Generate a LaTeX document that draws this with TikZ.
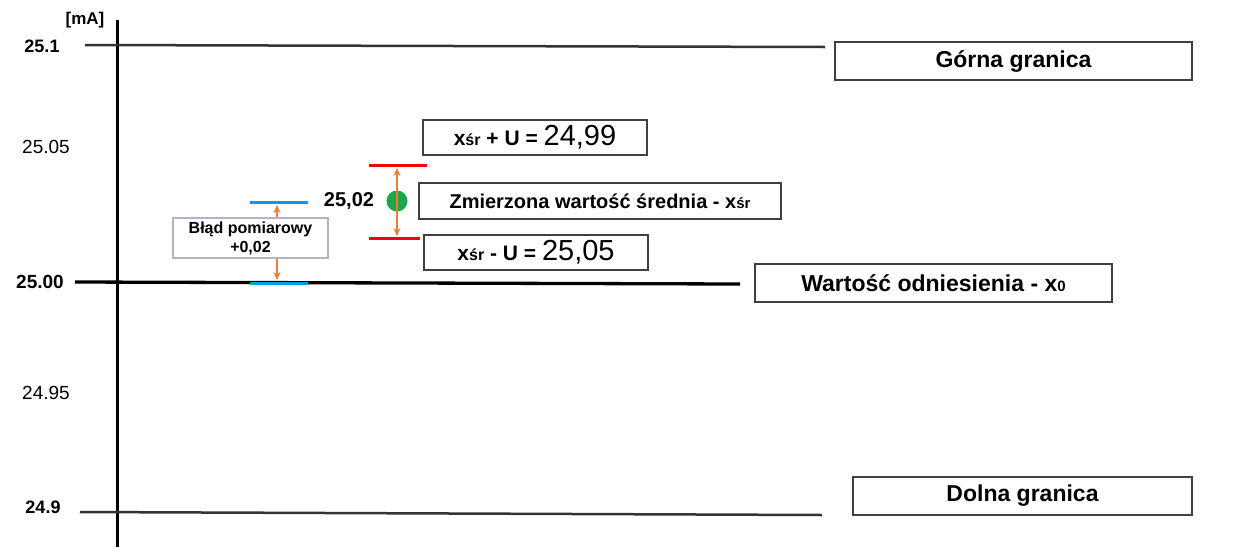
\documentclass[tikz,border=0pt]{standalone}
\usepackage{fontspec}
\usetikzlibrary{arrows.meta}
\setmainfont{Liberation Sans}
\definecolor{oor}{HTML}{ED7D31}
\definecolor{bbl}{HTML}{00A0E0}
\definecolor{ggr}{HTML}{1AA84A}
\begin{document}
\begin{tikzpicture}[x=1pt,y=-1pt,
 box/.style={draw=black!75,line width=1.3pt,inner sep=0pt},
 lim/.style={line width=2.5pt,draw=black!80},
 oar/.style={draw=oor,line width=2pt,<->,>={Stealth[length=8pt,width=7pt]}},
 oar1/.style={draw=oor,line width=2pt,->,>={Stealth[length=8pt,width=7pt]}},
 lab/.style={font=\fontsize{17}{19}\selectfont}]
\useasboundingbox (0,0) rectangle (1245,547);
\draw[line width=3pt] (117,20) -- (117,547);
\node[lab,font=\bfseries\fontsize{17}{19}\selectfont] (ma) at (85,20) {[mA]};
\coordinate (a1) at (85,45); \coordinate (a2) at (825,47);
\draw[lim] (a1) -- (a2);
\coordinate (b1) at (75,282); \coordinate (b2) at (740,284);
\draw[line width=3.3pt] (b1) -- (b2);
\coordinate (c1) at (80,512); \coordinate (c2) at (822,515);
\draw[lim] (c1) -- (c2);
\node[lab,font=\bfseries\fontsize{18}{20}\selectfont] (t1) at (42,46) {25.1};
\node[lab,font=\fontsize{19}{21}\selectfont] (t2) at (46,147) {25.05};
\node[lab,font=\bfseries\fontsize{19}{21}\selectfont] (t3) at (40,282) {25.00};
\node[lab,font=\fontsize{19}{21}\selectfont] (t4) at (46,393) {24.95};
\node[lab,font=\bfseries\fontsize{18}{20}\selectfont] (t5) at (43,507) {24.9};
\node[box,minimum width=357pt,minimum height=38pt,font=\bfseries\fontsize{23}{25}\selectfont] (gg) at (1013.5,61) {Górna granica};
\node[box,minimum width=339pt,minimum height=38pt,font=\bfseries\fontsize{23}{25}\selectfont] (dg) at (1022.5,496) {Dolna granica};
\node[box,minimum width=357pt,minimum height=38pt,font=\bfseries\fontsize{23}{25}\selectfont] (wo) at (933.5,283) {Wartość odniesienia - x{\fontsize{15}{16}\selectfont 0}};
\node[box,minimum width=224pt,minimum height=35pt,font=\bfseries\fontsize{21}{23}\selectfont] (up) at (535,137.5) {x{\fontsize{16}{17}\selectfont śr} + U = {\mdseries\fontsize{29}{31}\selectfont 24,99}};
\node[box,minimum width=362pt,minimum height=36pt,font=\bfseries\fontsize{20}{22}\selectfont] (zm) at (600,201) {Zmierzona wartość średnia - x{\fontsize{15}{16}\selectfont śr}};
\node[box,minimum width=224pt,minimum height=35pt,font=\bfseries\fontsize{21}{23}\selectfont] (lo) at (536,252.5) {x{\fontsize{16}{17}\selectfont śr} - U = {\mdseries\fontsize{29}{31}\selectfont 25,05}};
\draw[red,line width=3pt] (369,165) -- (427,165);
\draw[red,line width=3pt] (369,238) -- (420,238);
\fill[ggr] (397,201) circle (10.5);
\coordinate (r1) at (397,168); \coordinate (r2) at (397,236);
\draw[oar] (r1) -- (r2);
\node[font=\bfseries\fontsize{20}{22}\selectfont] (v) at (349,201) {25,02};
\draw[bbl,line width=3pt] (250,202) -- (308,202);
\draw[bbl,line width=3pt] (250,283) -- (308,283);
\node[draw=blue!20!gray!50,line width=1.2pt,fill=white,minimum width=155pt,minimum height=40pt,align=center,font=\bfseries\fontsize{16}{19}\selectfont] (bp) at (250.5,238) {Błąd pomiarowy\\+0,02};
\coordinate (e1) at (277,205); \coordinate (e2) at (277,280);
\draw[oar1] (bp.north -| e1) -- (e1);
\draw[oar1] (bp.south -| e2) -- (e2);
\end{tikzpicture}
\end{document}
